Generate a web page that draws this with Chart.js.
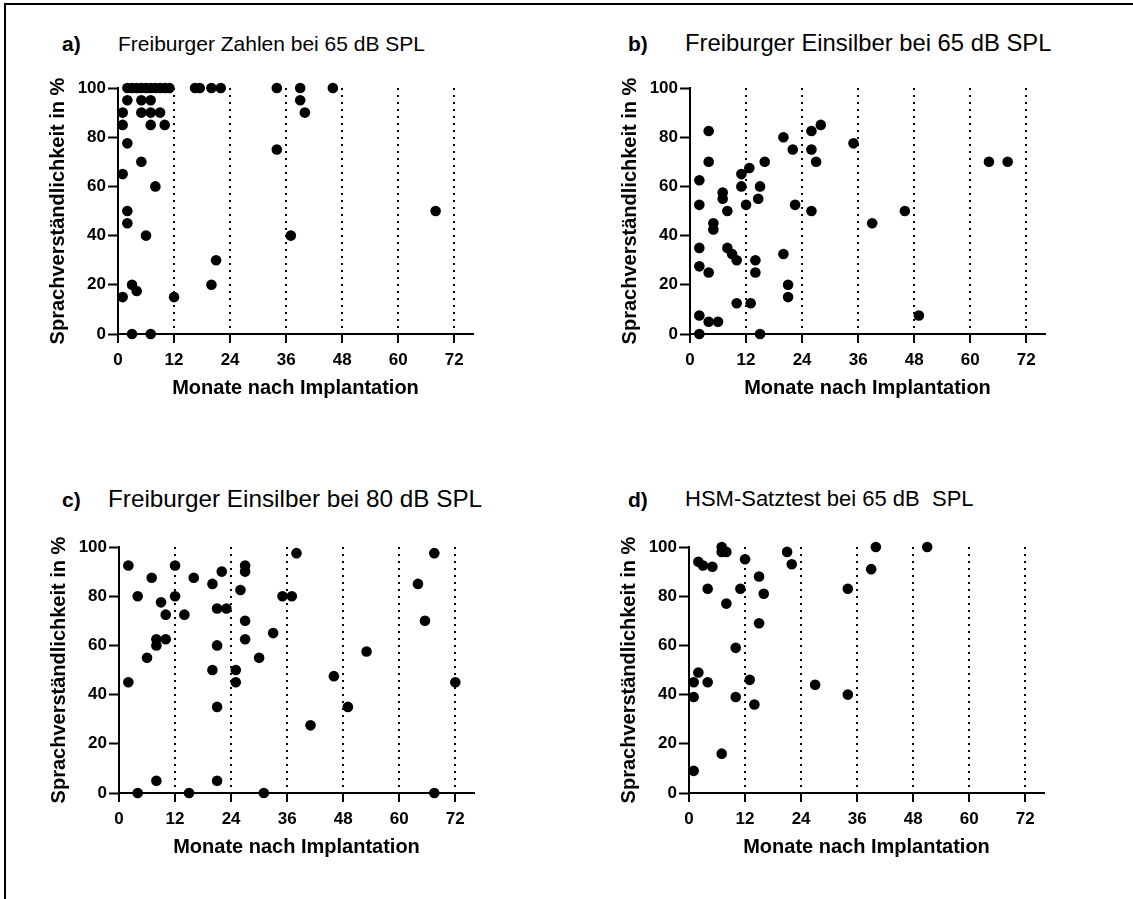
<!DOCTYPE html>
<html>
<head>
<meta charset="utf-8">
<title>Sprachverständlichkeit nach Implantation</title>
<script src="https://cdn.jsdelivr.net/npm/chart.js@4.4.1/dist/chart.umd.min.js"></script>
<style>
  html, body { margin: 0; padding: 0; background: #fff; }
  body { width: 1133px; height: 899px; position: relative; overflow: hidden; font-family: 'Liberation Sans', Arial, sans-serif; }
  .frame { position: absolute; left: 4px; top: 3px; width: 1200px; height: 1000px; border-left: 2px solid #000; border-top: 2px solid #000; }
  .panel { position: absolute; width: 470px; height: 330px; }
  .lbl { position: absolute; line-height: 1; white-space: nowrap; color: #000; }
  .letter { font-weight: bold; }
</style>
</head>
<body>
<div class="frame"></div>

<div class="lbl letter" style="left:62px; top:33px; font-size:21px;">a)</div>
<div class="lbl" style="left:118px; top:33px; font-size:21px;">Freiburger Zahlen bei 65 dB SPL</div>
<div class="lbl letter" style="left:628px; top:33px; font-size:21px;">b)</div>
<div class="lbl" style="left:685px; top:31px; font-size:23.8px;">Freiburger Einsilber bei 65 dB SPL</div>
<div class="lbl letter" style="left:62px; top:489px; font-size:21px;">c)</div>
<div class="lbl" style="left:108px; top:487px; font-size:24.3px;">Freiburger Einsilber bei 80 dB SPL</div>
<div class="lbl letter" style="left:628px; top:489px; font-size:21px;">d)</div>
<div class="lbl" style="left:685px; top:488px; font-size:22px;">HSM-Satztest bei 65 dB&nbsp; SPL</div>

<div class="panel" style="left:30px; top:70px;"><canvas id="chartA" width="470" height="330"></canvas></div>
<div class="panel" style="left:602px; top:70px;"><canvas id="chartB" width="470" height="330"></canvas></div>
<div class="panel" style="left:31px; top:529px;"><canvas id="chartC" width="470" height="330"></canvas></div>
<div class="panel" style="left:601px; top:529px;"><canvas id="chartD" width="470" height="330"></canvas></div>

<script>
// tick labels shared by all four panels
const xTicks = [0, 12, 24, 36, 48, 60, 72];
const yTicks = [0, 20, 40, 60, 80, 100];

// a) Freiburger Zahlen bei 65 dB SPL
const zahlen65Months = [2, 3, 4, 5, 6, 7, 8, 9, 10, 11, 16.5, 17.5, 20, 22, 34, 39, 46,
  2, 5, 7, 39,
  1, 5, 7, 9, 40,
  1, 7, 10,
  2, 34, 5, 1, 8, 2, 68, 2, 6, 37, 21, 3, 20, 4, 1, 12, 3, 7];
const zahlen65Scores = [100, 100, 100, 100, 100, 100, 100, 100, 100, 100, 100, 100, 100, 100, 100, 100, 100,
  95, 95, 95, 95,
  90, 90, 90, 90, 90,
  85, 85, 85,
  77.5, 75, 70, 65, 60, 50, 50, 45, 40, 40, 30, 20, 20, 17.5, 15, 15, 0, 0];

// b) Freiburger Einsilber bei 65 dB SPL
const einsilber65Months = [4, 4, 2, 2, 7, 7, 8, 5, 5, 2, 8, 9, 10, 2, 4, 10, 13, 2, 4, 6, 2, 15,
  11, 12.7, 11, 15, 12, 14.6, 16, 14, 14, 20, 22, 22.5, 20, 21, 21,
  26, 28, 26, 27, 26, 35, 39, 46, 49, 64, 68];
const einsilber65Scores = [82.5, 70, 62.5, 52.5, 57.5, 55, 50, 45, 42.5, 35, 35, 32.5, 30, 27.5, 25, 12.5, 12.5, 7.5, 5, 5, 0, 0,
  65, 67.5, 60, 60, 52.5, 55, 70, 30, 25, 80, 75, 52.5, 32.5, 20, 15,
  82.5, 85, 75, 70, 50, 77.5, 45, 50, 7.5, 70, 70];

// c) Freiburger Einsilber bei 80 dB SPL
const einsilber80Months = [2, 12, 38, 27, 27, 22, 7, 16, 20, 26, 4, 12, 35, 37, 9, 21, 23, 10, 14, 27,
  33, 8, 10, 27, 8, 21, 6, 30, 20, 25, 2, 25, 21, 8, 21, 4, 15, 31, 41,
  67.5, 64, 65.5, 53, 46, 72, 49, 67.5];
const einsilber80Scores = [92.5, 92.5, 97.5, 92.5, 90, 90, 87.5, 87.5, 85, 82.5, 80, 80, 80, 80, 77.5, 75, 75, 72.5, 72.5, 70,
  65, 62.5, 62.5, 62.5, 60, 60, 55, 55, 50, 50, 45, 45, 35, 5, 5, 0, 0, 0, 27.5,
  97.5, 85, 70, 57.5, 47.5, 45, 35, 0];

// d) HSM-Satztest bei 65 dB SPL
const hsm65Months = [7, 7, 8, 2, 3, 5, 12, 21, 22, 15, 4, 11, 34, 16, 8, 15, 10, 2, 1, 4,
  13, 27, 1, 10, 34, 14, 7, 1, 39, 40, 51];
const hsm65Scores = [100, 98, 98, 94, 92.5, 92, 95, 98, 93, 88, 83, 83, 83, 81, 77, 69, 59, 49, 45, 45,
  46, 44, 39, 39, 40, 36, 16, 9, 91, 100, 100];

Chart.defaults.font.family = "'Liberation Sans', Arial, sans-serif";
Chart.defaults.color = '#000';

function makePanel(canvasId, months, scores) {
  const points = months.map((m, i) => ({ x: m, y: scores[i] }));
  return new Chart(document.getElementById(canvasId), {
    type: 'scatter',
    data: {
      datasets: [{
        data: points,
        pointRadius: 5.3, pointHoverRadius: 5.3,
        backgroundColor: '#000', borderColor: '#000', borderWidth: 0,
        clip: false
      }]
    },
    options: {
      responsive: false, animation: false, devicePixelRatio: 1,
      layout: { padding: { top: 18, right: 27, left: 0, bottom: 0 } },
      plugins: { legend: { display: false }, tooltip: { enabled: false } },
      scales: {
        x: {
          type: 'linear', min: 0, max: 76,
          afterBuildTicks: (scale) => { scale.ticks = xTicks.map(v => ({ value: v })); },
          afterFit: (scale) => { scale.height = 66; },
          ticks: { font: { size: 17, weight: 'bold' }, color: '#000', padding: 7, maxRotation: 0 },
          grid: {
            color: (ctx) => (ctx.tick && ctx.tick.value === 0) ? 'rgba(0,0,0,0)' : '#000',
            lineWidth: 2, drawOnChartArea: true,
            tickColor: '#000', tickLength: 9, tickWidth: 2, tickBorderDash: []
          },
          border: { display: true, color: '#000', width: 2, dash: [2, 5] },
          title: { display: true, text: 'Monate nach Implantation', font: { size: 20, weight: 'bold' }, color: '#000', padding: { top: 0, bottom: 0 } }
        },
        y: {
          type: 'linear', min: 0, max: 100,
          afterBuildTicks: (scale) => { scale.ticks = yTicks.map(v => ({ value: v })); },
          afterFit: (scale) => { scale.width = 88; },
          ticks: { font: { size: 17, weight: 'bold' }, color: '#000', padding: 2 },
          grid: { drawOnChartArea: false, tickColor: '#000', tickLength: 10, tickWidth: 2 },
          border: { display: true, color: '#000', width: 2 },
          title: { display: true, text: 'Sprachverständlichkeit in %', font: { size: 20, weight: 'bold' }, color: '#000', padding: { top: 16, bottom: 0 } }
        }
      }
    }
  });
}

makePanel('chartA', zahlen65Months, zahlen65Scores);
makePanel('chartB', einsilber65Months, einsilber65Scores);
makePanel('chartC', einsilber80Months, einsilber80Scores);
makePanel('chartD', hsm65Months, hsm65Scores);
</script>
</body>
</html>
